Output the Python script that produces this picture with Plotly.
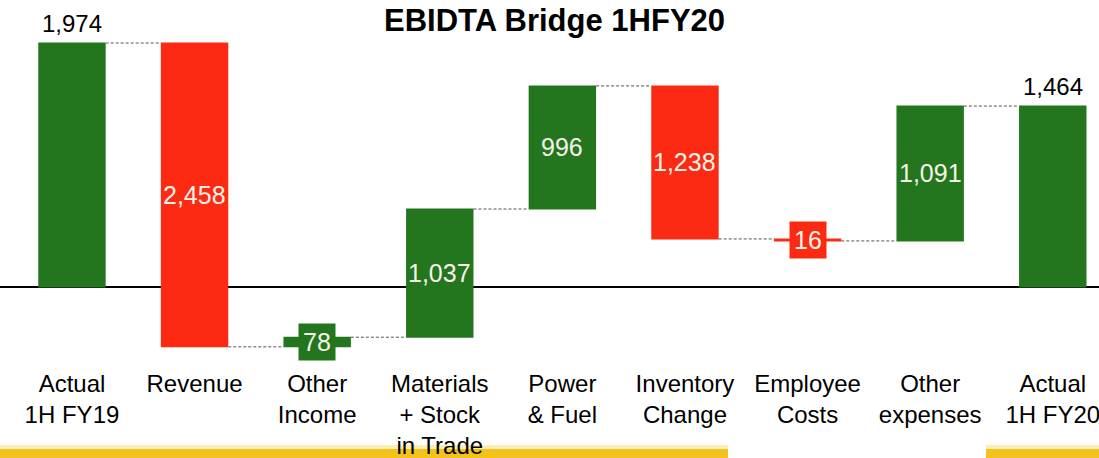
import plotly.graph_objects as go

categories = ["Actual<br>1H FY19", "Revenue", "Other<br>Income", "Materials<br>+ Stock<br>in Trade",
              "Power<br>& Fuel", "Inventory<br>Change", "Employee<br>Costs", "Other<br>expenses",
              "Actual<br>1H FY20"]
values = [1974, -2458, 78, 1037, 996, -1238, -16, 1091, 1464]
measures = ["absolute", "relative", "relative", "relative", "relative", "relative", "relative", "relative", "total"]
labels = ["1,974", "2,458", "78", "1,037", "996", "1,238", "16", "1,091", "1,464"]

GREEN = "#24761E"
RED = "#FC2A12"
LABEL_WHITE = "#F6F3E8"
FONT = "Liberation Sans, Arial, sans-serif"

xs = list(range(len(categories)))

fig = go.Figure(go.Waterfall(
    x=xs, y=values, measure=measures,
    width=0.55,
    increasing=dict(marker=dict(color=GREEN)),
    decreasing=dict(marker=dict(color=RED)),
    totals=dict(marker=dict(color=GREEN)),
    connector=dict(line=dict(color="#555555", width=1, dash="3px,2px")),
    textposition="none",
    hoverinfo="skip",
))

# value labels
annotations = []
running = 0
for i, (v, m, lab) in enumerate(zip(values, measures, labels)):
    if m == "absolute":
        start, end = 0, v
        running = v
    elif m == "total":
        start, end = 0, running
    else:
        start, end = running, running + v
        running += v
    if m in ("absolute", "total"):
        annotations.append(dict(x=i, y=end, text=lab, showarrow=False, yanchor="bottom",
                                yshift=4, font=dict(size=24, color="black", family=FONT)))
    else:
        small = abs(v) < 200
        col = GREEN if v > 0 else RED
        a = dict(x=i, y=(start + end) / 2, text=lab, showarrow=False,
                 font=dict(size=25, color=LABEL_WHITE, family=FONT))
        if small:
            a.update(bgcolor=col, borderpad=4)
        annotations.append(a)

plot_h = 367
annotations.append(dict(x=0.505, y=1.0, xref="paper", yref="paper", yanchor="middle",
                        yshift=-20, text="<b>EBIDTA Bridge 1HFY20</b>", showarrow=False,
                        font=dict(size=31, color="black", family=FONT)))

def py(px):
    return (plot_h - px) / plot_h

shapes = [
    dict(type="rect", xref="paper", yref="paper", x0=0, x1=728 / 1099, y0=py(449), y1=py(445),
         fillcolor="#FBEDB8", line=dict(width=0), layer="below"),
    dict(type="rect", xref="paper", yref="paper", x0=0, x1=728 / 1099, y0=py(460), y1=py(449),
         fillcolor="#F3C21B", line=dict(width=0), layer="below"),
    dict(type="rect", xref="paper", yref="paper", x0=986 / 1099, x1=1, y0=py(449), y1=py(445),
         fillcolor="#FBEDB8", line=dict(width=0), layer="below"),
    dict(type="rect", xref="paper", yref="paper", x0=986 / 1099, x1=1, y0=py(460), y1=py(449),
         fillcolor="#F3C21B", line=dict(width=0), layer="below"),
]

fig.update_layout(
    width=1099, height=458,
    margin=dict(l=0, r=0, t=0, b=458 - plot_h, autoexpand=False),
    paper_bgcolor="white", plot_bgcolor="white",
    showlegend=False,
    annotations=annotations,
    shapes=shapes,
    xaxis=dict(range=[-0.587, 8.377], tickmode="array", tickvals=xs, ticktext=categories,
               showgrid=False, zeroline=False, showline=False, ticks="", automargin=False,
               ticklabeloverflow="allow",
               tickfont=dict(size=24, color="black", family=FONT), tickangle=0),
    yaxis=dict(range=[-647, 2322], showgrid=False, showticklabels=False, ticks="", automargin=False,
               zeroline=True, zerolinecolor="black", zerolinewidth=1.5, showline=False),
)

fig.write_html("out.html", config={"displayModeBar": False},
               post_script="document.body.style.margin='0px';document.body.style.overflow='hidden';")
